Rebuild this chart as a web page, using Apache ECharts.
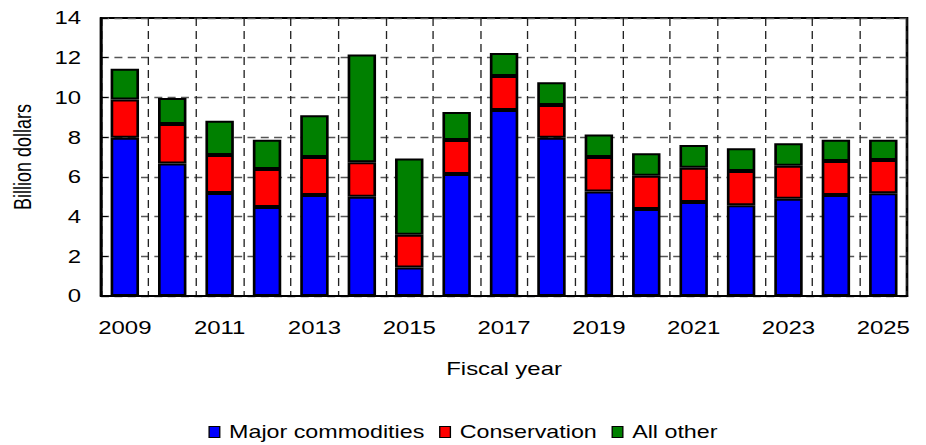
<!DOCTYPE html>
<html>
<head>
<meta charset="utf-8">
<script src="https://cdn.jsdelivr.net/npm/echarts@6/dist/echarts.min.js"></script>
<style>
  html, body { margin: 0; padding: 0; background: #fff; overflow: hidden; }
  #wrap { width: 926px; height: 445px; overflow: hidden; }
  /* chart is laid out narrower, then widened so the text gets the wide look */
  #chart { width: 696px; height: 445px; transform: scaleX(1.3305); transform-origin: 0 0; }
</style>
</head>
<body>
<div id="wrap"><div id="chart"></div></div>
<script>
// Fiscal years shown on the category axis
const years = ['2009', '2010', '2011', '2012', '2013', '2014', '2015', '2016', '2017',
               '2018', '2019', '2020', '2021', '2022', '2023', '2024', '2025'];

// Outlays by program group, billion dollars
const majorCommodities = [7.97, 6.67, 5.19, 4.48, 5.09, 5.00, 1.43, 6.15, 9.37,
                          7.97, 5.26, 4.38, 4.74, 4.57, 4.90, 5.09, 5.17];
const conservation     = [1.92, 1.99, 1.91, 1.92, 1.91, 1.73, 1.66, 1.71, 1.71,
                          1.65, 1.74, 1.67, 1.72, 1.73, 1.66, 1.71, 1.68];
const allOther         = [1.55, 1.31, 1.73, 1.47, 2.10, 5.43, 3.83, 1.41, 1.16,
                          1.15, 1.13, 1.14, 1.15, 1.14, 1.13, 1.07, 1.02];

// Value-axis ticks
const yTicks = { min: 0, max: 14, interval: 2 };

const FONT = 'Liberation Sans, Arial, sans-serif';
const chart = echarts.init(document.getElementById('chart'), null, { renderer: 'svg' });

function barSeries(name, data, color) {
  return {
    name: name,
    type: 'bar',
    stack: 'total',
    data: data,
    barWidth: '60%',
    itemStyle: { color: color, borderColor: '#000', borderWidth: 2 },
    emphasis: { disabled: true }
  };
}

chart.setOption({
  animation: false,
  textStyle: { fontFamily: FONT, color: '#000' },
  grid: {
    left: 75.2, right: 14.3, top: 18, bottom: 149,
    show: true, borderColor: '#000', borderWidth: 2, backgroundColor: 'transparent'
  },
  legend: {
    top: 418,
    left: 'center',
    itemWidth: 8,
    itemHeight: 11,
    itemGap: 11,
    icon: 'rect',
    textStyle: { fontSize: 17.5, color: '#000', fontFamily: FONT, padding: [0, 0, 0, 2] },
    data: [
      { name: 'Major commodities', itemStyle: { borderColor: '#000', borderWidth: 1 } },
      { name: 'Conservation', itemStyle: { borderColor: '#000', borderWidth: 1 } },
      { name: 'All other', itemStyle: { borderColor: '#000', borderWidth: 1 } }
    ]
  },
  xAxis: {
    type: 'category',
    data: years,
    name: 'Fiscal year',
    nameLocation: 'middle',
    nameGap: 64,
    nameTextStyle: { fontSize: 18, color: '#000', fontFamily: FONT },
    axisLine: { lineStyle: { color: '#000', width: 2 } },
    axisTick: { show: false },
    axisLabel: { interval: 1, fontSize: 18, color: '#000', margin: 23, fontFamily: FONT },
    splitLine: {
      show: true, interval: 0,
      lineStyle: { color: '#222', width: 1, type: [8, 5] }
    }
  },
  yAxis: {
    type: 'value',
    min: yTicks.min,
    max: yTicks.max,
    interval: yTicks.interval,
    name: 'Billion dollars',
    nameLocation: 'middle',
    nameGap: 50,
    nameTextStyle: { fontSize: 18, color: '#000', fontFamily: FONT },
    axisLine: { show: true, lineStyle: { color: '#000', width: 2 } },
    axisTick: { show: true, inside: true, length: 5, lineStyle: { color: '#000', width: 1 } },
    axisLabel: { fontSize: 18, color: '#000', margin: 15, fontFamily: FONT },
    splitLine: { show: true, lineStyle: { color: '#555', width: 1.3, type: [6, 4] } }
  },
  series: [
    barSeries('Major commodities', majorCommodities, '#0000ff'),
    barSeries('Conservation', conservation, '#ff0000'),
    barSeries('All other', allOther, '#008000')
  ]
});
</script>
</body>
</html>
